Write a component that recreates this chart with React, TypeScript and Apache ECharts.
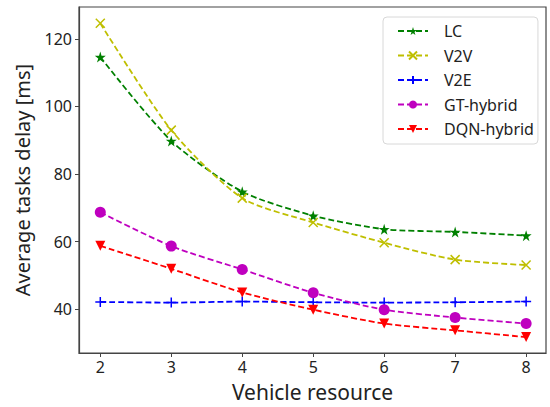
import React, { useEffect, useRef } from "react";
import * as echarts from "echarts";

const resources = [2, 3, 4, 5, 6, 7, 8];
const lcDelay = [114.6, 89.8, 74.8, 67.7, 63.7, 62.9, 61.8];
const v2vDelay = [124.6, 93.0, 72.9, 65.7, 59.7, 54.7, 53.1];
const v2eDelay = [42.2, 42.0, 42.3, 42.1, 42.0, 42.1, 42.3];
const gtDelay = [68.7, 58.7, 51.8, 44.9, 39.9, 37.6, 35.8];
const dqnDelay = [58.8, 52.0, 45.0, 39.9, 35.8, 33.8, 31.8];
const xTicks = [2, 3, 4, 5, 6, 7, 8];
const yTicks = [40, 60, 80, 100, 120];

const STAR = "path://M50,0 L61,35 L98,35 L68,57 L79,91 L50,70 L21,91 L32,57 L2,35 L39,35 Z";
const XMARK = "path://M0,0 L10,10 M10,0 L0,10";
const PLUS = "path://M5,0 L5,10 M0,5 L10,5";
const TRI = "path://M0,0 L10,0 L5,9 Z";

function mk(name: string, vals: number[], color: string, symbol: string, size: number, stroke: boolean) {
  return {
    name,
    type: "line",
    data: resources.map((x, i) => [x, vals[i]]),
    smooth: 0.25,
    symbol,
    symbolSize: size,
    showSymbol: true,
    lineStyle: { color, width: 1.8, type: [6, 3] },
    itemStyle: stroke
      ? { color: "rgba(0,0,0,0)", borderColor: color, borderWidth: 1.5 }
      : { color, borderWidth: 0 },
    emphasis: { disabled: true },
  };
}

export default function App() {
  const ref = useRef<HTMLDivElement>(null);
  useEffect(() => {
    document.body.style.margin = "0";
    if (!ref.current) return;
    const chart = echarts.init(ref.current, null, { renderer: "svg" });
    const font = "Noto Sans";
    chart.setOption({
      animation: false,
      textStyle: { fontFamily: font },
      grid: {
        left: 79,
        right: 4,
        top: 7,
        bottom: 51,
        show: true,
        borderColor: "#444",
        borderWidth: 1.2,
        backgroundColor: "#fff",
      },
      legend: {
        left: 383,
        top: 17,
        orient: "vertical",
        itemWidth: 30,
        itemHeight: 10,
        itemGap: 6.5,
        padding: [5, 4, 6, 14],
        borderColor: "#d8d8d8",
        borderWidth: 1,
        borderRadius: 4,
        backgroundColor: "#fff",
        textStyle: { fontFamily: font, fontSize: 16, lineHeight: 18, color: "#222", padding: [0, 0, 0, 11] },
        data: ["LC", "V2V", "V2E", "GT-hybrid", "DQN-hybrid"],
      },
      xAxis: {
        type: "value",
        min: 1.7,
        max: 8.28,
        name: "Vehicle resource",
        nameLocation: "middle",
        nameGap: 28,
        nameTextStyle: { fontFamily: font, fontSize: 21, color: "#222" },
        splitLine: { show: false },
        axisLine: { show: true, lineStyle: { color: "#444", width: 1.2 } },
        axisTick: { show: true, length: 4, customValues: xTicks, lineStyle: { color: "#444" } },
        axisLabel: { customValues: xTicks, fontFamily: font, fontSize: 16, color: "#222", margin: 6 },
      },
      yAxis: {
        type: "value",
        min: 27.1,
        max: 129.4,
        name: "Average tasks delay [ms]",
        nameLocation: "middle",
        nameGap: 47,
        nameTextStyle: { fontFamily: font, fontSize: 20, color: "#222" },
        splitLine: { show: false },
        axisLine: { show: true, lineStyle: { color: "#444", width: 1.2 } },
        axisTick: { show: true, length: 4, customValues: yTicks, lineStyle: { color: "#444" } },
        axisLabel: { customValues: yTicks, fontFamily: font, fontSize: 16, color: "#222", margin: 7 },
      },
      series: [
        mk("LC", lcDelay, "#008000", STAR, 11, false),
        mk("V2V", v2vDelay, "#bfbf00", XMARK, 9, true),
        mk("V2E", v2eDelay, "#0000ff", PLUS, 10, true),
        mk("GT-hybrid", gtDelay, "#bf00bf", "circle", 11, false),
        mk("DQN-hybrid", dqnDelay, "#ff0000", TRI, 10, false),
      ],
    });
    return () => chart.dispose();
  }, []);
  return <div ref={ref} style={{ width: 550, height: 407 }} />;
}
